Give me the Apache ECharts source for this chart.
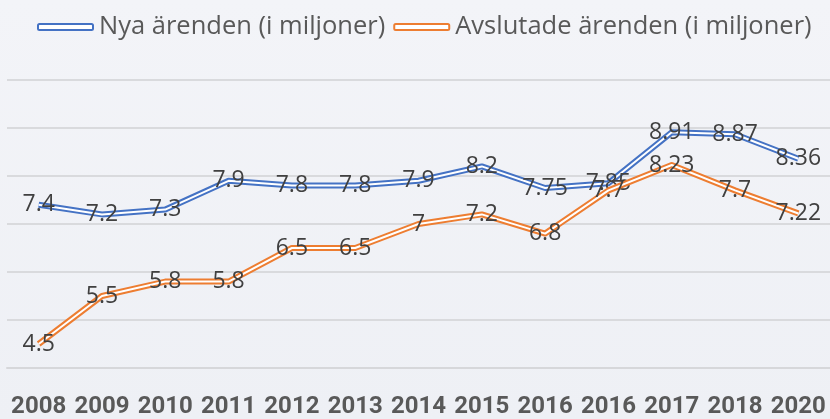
<!DOCTYPE html>
<html>
<head>
<meta charset="utf-8">
<script src="https://cdn.jsdelivr.net/npm/echarts@6/dist/echarts.min.js"></script>
<style>
  html, body { margin: 0; padding: 0; background: #F0F2F6; }
  #chart { width: 830px; height: 419px; }
</style>
</head>
<body>
<div id="chart"></div>
<script>
const categories = ['2008','2009','2010','2011','2012','2013','2014','2015','2016','2016','2017','2018','2020'];
const nyaArenden = [7.4, 7.2, 7.3, 7.9, 7.8, 7.8, 7.9, 8.2, 7.75, 7.85, 8.91, 8.87, 8.36];
const avslutadeArenden = [4.5, 5.5, 5.8, 5.8, 6.5, 6.5, 7, 7.2, 6.8, 7.7, 8.23, 7.7, 7.22];
const seriesNames = ['Nya ärenden (i miljoner)', 'Avslutade ärenden (i miljoner)'];
const yMin = 4, yMax = 10, yStep = 1;

const BLUE = '#4472C4', ORANGE = '#ED7D31';
const labelStyle = {
  show: true, position: 'inside', fontFamily: 'Open Sans', fontSize: 23, color: '#404040'
};

function outer(name, data, color, z) {
  return {
    name: name, type: 'line', data: data, z: z,
    symbol: 'none', silent: true,
    lineStyle: { color: color, width: 6, join: 'round' },
    itemStyle: { color: color }
  };
}
function inner(name, data, z) {
  return {
    name: name, type: 'line', data: data, z: z,
    symbol: 'circle', symbolSize: 0.1, showSymbol: true, silent: true,
    lineStyle: { color: '#FFFFFF', width: 2, join: 'round' },
    itemStyle: { color: 'rgba(0,0,0,0)' },
    label: labelStyle
  };
}

const chart = echarts.init(document.getElementById('chart'), null, { renderer: 'canvas' });
chart.setOption({
  animation: false,
  backgroundColor: {
    type: 'linear', x: 0, y: 0, x2: 0, y2: 1,
    colorStops: [{ offset: 0, color: '#F3F4F8' }, { offset: 1, color: '#EEF0F5' }]
  },
  legend: {
    data: [
      { name: seriesNames[0], itemStyle: { color: '#FFFFFF', borderColor: BLUE, borderWidth: 2 } },
      { name: seriesNames[1], itemStyle: { color: '#FFFFFF', borderColor: ORANGE, borderWidth: 2 } }
    ],
    icon: 'roundRect',
    left: 32, top: 9,
    itemWidth: 55, itemHeight: 6, itemGap: 8,
    textStyle: { fontFamily: 'Open Sans', fontSize: 25.5, color: '#595959', padding: [0, 0, 0, 1] }
  },
  grid: { left: 7, right: -2, top: 80, bottom: 49, containLabel: false },
  xAxis: {
    type: 'category', data: categories, boundaryGap: true,
    axisLine: { show: true, lineStyle: { color: '#D6D7DA', width: 2 } },
    axisTick: { show: false },
    axisLabel: { interval: 0, margin: 27, fontFamily: 'Roboto', fontWeight: 'bold', fontSize: 24, color: '#595959' }
  },
  yAxis: {
    type: 'value', min: yMin, max: yMax, interval: yStep,
    axisLabel: { show: false }, axisLine: { show: false }, axisTick: { show: false },
    splitLine: { lineStyle: { color: '#D9DADD', width: 2 } }
  },
  series: [
    outer(seriesNames[0], nyaArenden, BLUE, 2),
    inner('_nyaInner', nyaArenden, 3),
    outer(seriesNames[1], avslutadeArenden, ORANGE, 4),
    inner('_avsInner', avslutadeArenden, 5)
  ]
});
</script>
</body>
</html>
